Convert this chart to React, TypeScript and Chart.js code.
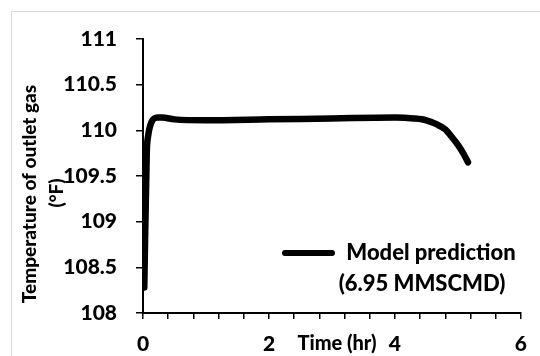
import React, { useEffect, useRef } from "react";
import { Chart, registerables } from "chart.js";

Chart.register(...registerables);

const timeHr = [0.02, 0.06, 0.08, 0.135, 0.23, 0.3, 0.5, 1, 2, 3, 4, 4.3, 4.5, 4.65, 4.8, 4.9, 5.0, 5.1, 5.16];
const tempF = [108.28, 109.76, 109.93, 110.09, 110.14, 110.14, 110.12, 110.11, 110.12, 110.13, 110.14, 110.13, 110.11, 110.07, 110.01, 109.93, 109.84, 109.73, 109.65];
const seriesLabel = ["Model prediction", "(6.95 MMSCMD)"];
const yTitle = ["Temperature of outlet gas", "(°F)"];
const xTitle = "Time (hr)";
const xMajorTicks = [0, 2, 4, 6];

const FONT = "Lato, 'Noto Sans', sans-serif";
const W = "900";

const overlayPlugin = {
  id: "overlay",
  afterDraw(chart: any) {
    const ctx = chart.ctx as CanvasRenderingContext2D;
    ctx.save();
    ctx.fillStyle = "#000";
    // y axis title
    ctx.font = `${W} 19px ${FONT}`;
    ctx.textAlign = "center";
    ctx.textBaseline = "middle";
    ctx.save();
    ctx.translate(30, 194);
    ctx.rotate(-Math.PI / 2);
    ctx.fillText(yTitle[0], 0, 0);
    ctx.restore();
    ctx.save();
    ctx.translate(57, 193);
    ctx.rotate(-Math.PI / 2);
    ctx.fillText(yTitle[1], 0, 0);
    ctx.restore();
    // x axis title
    ctx.font = `${W} 20px ${FONT}`;
    ctx.fillText(xTitle, 337, 344);
    // legend
    ctx.strokeStyle = "#000";
    ctx.lineWidth = 6;
    ctx.lineCap = "round";
    ctx.beginPath();
    ctx.moveTo(285, 253);
    ctx.lineTo(332, 253);
    ctx.stroke();
    ctx.font = `${W} 22px ${FONT}`;
    ctx.fillText(seriesLabel[0], 431, 253);
    ctx.fillText(seriesLabel[1], 422, 284);
    ctx.restore();
  },
};

export default function App() {
  const ref = useRef<HTMLCanvasElement | null>(null);
  useEffect(() => {
    if (!ref.current) return;
    const chart = new Chart(ref.current, {
      type: "line",
      data: {
        datasets: [
          {
            label: seriesLabel.join(" "),
            data: timeHr.map((t, i) => ({ x: t, y: tempF[i] })),
            borderColor: "#000",
            borderWidth: 6.5,
            borderCapStyle: "round",
            borderJoinStyle: "round",
            pointRadius: 0,
            cubicInterpolationMode: "monotone",
            fill: false,
          },
        ],
      },
      options: {
        responsive: false,
        animation: false,
        events: [],
        layout: { padding: { left: 0, right: 11, top: 39, bottom: 0 } },
        plugins: { legend: { display: false }, tooltip: { enabled: false } },
        scales: {
          x: {
            type: "linear",
            min: 0,
            max: 6,
            afterFit: (s: any) => {
              s.height = 43;
            },
            ticks: {
              stepSize: 0.4,
              autoSkip: false,
              maxRotation: 0,
              padding: 13,
              color: "#000",
              font: { family: FONT, size: 21, weight: W },
              callback: (v: any) => {
                const r = Math.round(Number(v) * 10) / 10;
                return xMajorTicks.includes(r) ? String(r) : "";
              },
            },
            grid: { drawOnChartArea: false, tickLength: 6, color: "#000", lineWidth: 1.5 },
            border: { color: "#000", width: 2 },
          },
          y: {
            type: "linear",
            min: 108,
            max: 111,
            afterFit: (s: any) => {
              s.width = 143;
            },
            ticks: {
              stepSize: 0.5,
              padding: 19,
              color: "#000",
              font: { family: FONT, size: 21, weight: W },
              callback: (v: any) => String(Math.round(Number(v) * 10) / 10),
            },
            grid: { drawOnChartArea: false, tickLength: 7, color: "#000", lineWidth: 1.5 },
            border: { color: "#000", width: 2 },
          },
        },
      },
      plugins: [overlayPlugin],
    } as any);
    return () => chart.destroy();
  }, []);

  return (
    <div style={{ position: "fixed", left: 0, top: 0, width: 540, height: 356, overflow: "hidden", background: "#fff" }}>
      <div
        style={{
          position: "absolute",
          left: 11,
          top: 11,
          width: 560,
          height: 380,
          border: "1px solid #d9d9d9",
          boxSizing: "border-box",
        }}
      />
      <canvas ref={ref} width={540} height={356} style={{ position: "absolute", left: 0, top: 0, display: "block" }} />
    </div>
  );
}
